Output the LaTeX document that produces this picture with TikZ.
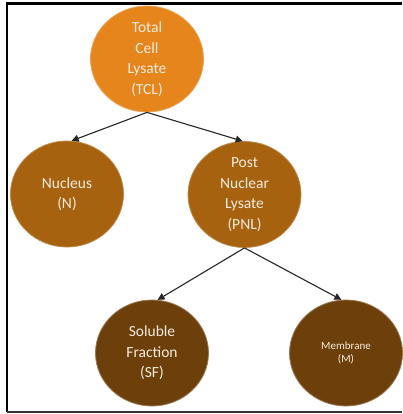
\documentclass[tikz,border=0pt]{standalone}
\usepackage{fontspec}
\setmainfont{Carlito}
\usepackage{xcolor}
\usepackage{tikz}
\usetikzlibrary{arrows.meta,shapes.geometric}
\definecolor{lysate}{HTML}{E5851C}
\definecolor{fraction}{HTML}{A7620F}
\definecolor{pellet}{HTML}{6D400B}
\definecolor{labeltext}{HTML}{F6ECDD}
\tikzset{
  stage/.style={
    ellipse,
    minimum width=113pt,
    minimum height=106pt,
    inner sep=0pt,
    line width=0.8pt,
    align=center,
    text=labeltext,
    font=\fontsize{15.5}{20.5}\selectfont
  },
  top/.style={fill=lysate, draw=lysate!75!white},
  mid/.style={fill=fraction, draw=fraction!75!white},
  low/.style={fill=pellet, draw=pellet!70!white},
  split/.style={line width=1.1pt, draw=black!85, -{Triangle[length=7pt,width=7pt]}}
}

\begin{document}
\begin{tikzpicture}[x=1pt,y=-1pt]
\useasboundingbox (0,0) rectangle (402,414);
% frame
\draw[line width=2.3pt] (402,3.5) -- (7,3.5) -- (7,412);
\draw[line width=1.4pt, black!80] (7,412) -- (402,412);

\node[stage, top] (tcl) at (147,59) {Total\\Cell\\Lysate\\(TCL)};
\node[stage, mid] (nuc) at (67,194) {Nucleus\\(N)};
\node[stage, mid] (pnl) at (244.5,194.5) {Post\\Nuclear\\Lysate\\(PNL)};
\node[stage, low] (sf) at (152,353) {Soluble\\Fraction\\(SF)};
\node[stage, low, font=\fontsize{11}{13.5}\selectfont] (mem) at (346,353) {Membrane\\(M)};

\draw[split] (tcl.south) -- (nuc.85);
\draw[split] (tcl.south) -- (pnl.92);
\draw[split] (pnl.south) -- (sf.84);
\draw[split] (pnl.south) -- (mem.95);
\end{tikzpicture}
\end{document}
